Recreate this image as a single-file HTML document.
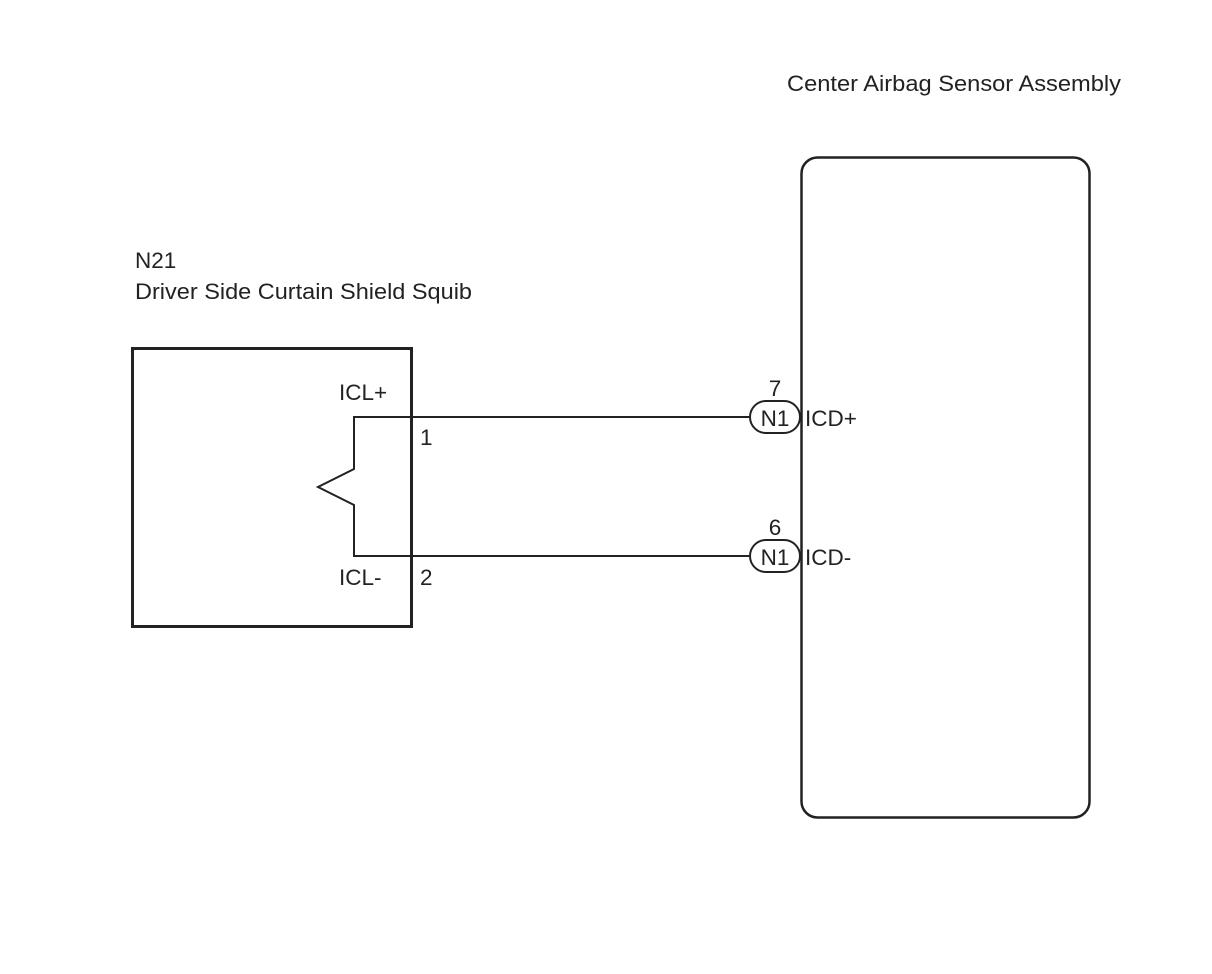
<!DOCTYPE html>
<html><head><meta charset="utf-8"><style>
html,body{margin:0;padding:0;background:#fff;}
svg{display:block;}
text{font-family:"Liberation Sans",Arial,sans-serif;font-size:22.5px;fill:#222;}
</style></head><body>
<svg width="1212" height="974" viewBox="0 0 1212 974" xmlns="http://www.w3.org/2000/svg">
<text x="787" y="91" textLength="334" lengthAdjust="spacingAndGlyphs">Center Airbag Sensor Assembly</text>
<text x="135" y="268">N21</text>
<text x="135" y="299" textLength="337" lengthAdjust="spacingAndGlyphs">Driver Side Curtain Shield Squib</text>
<rect x="801.5" y="157.5" width="288" height="660" rx="16" fill="none" stroke="#222" stroke-width="2.5"/>
<rect x="132.5" y="348.5" width="279" height="278" fill="none" stroke="#222" stroke-width="3"/>
<polyline points="750,417 354,417 354,469 318,487 354,505 354,556 750,556" fill="none" stroke="#222" stroke-width="2"/>
<rect x="750" y="401" width="50" height="32" rx="16" fill="#fff" stroke="#222" stroke-width="2"/>
<rect x="750" y="540" width="50" height="32" rx="16" fill="#fff" stroke="#222" stroke-width="2"/>
<text x="775" y="426" text-anchor="middle">N1</text>
<text x="775" y="565" text-anchor="middle">N1</text>
<text x="775" y="396" text-anchor="middle">7</text>
<text x="775" y="535" text-anchor="middle">6</text>
<text x="805" y="426">ICD+</text>
<text x="805" y="565">ICD-</text>
<text x="339" y="400">ICL+</text>
<text x="339" y="585">ICL-</text>
<text x="420" y="445">1</text>
<text x="420" y="585">2</text>
</svg>
</body></html>
